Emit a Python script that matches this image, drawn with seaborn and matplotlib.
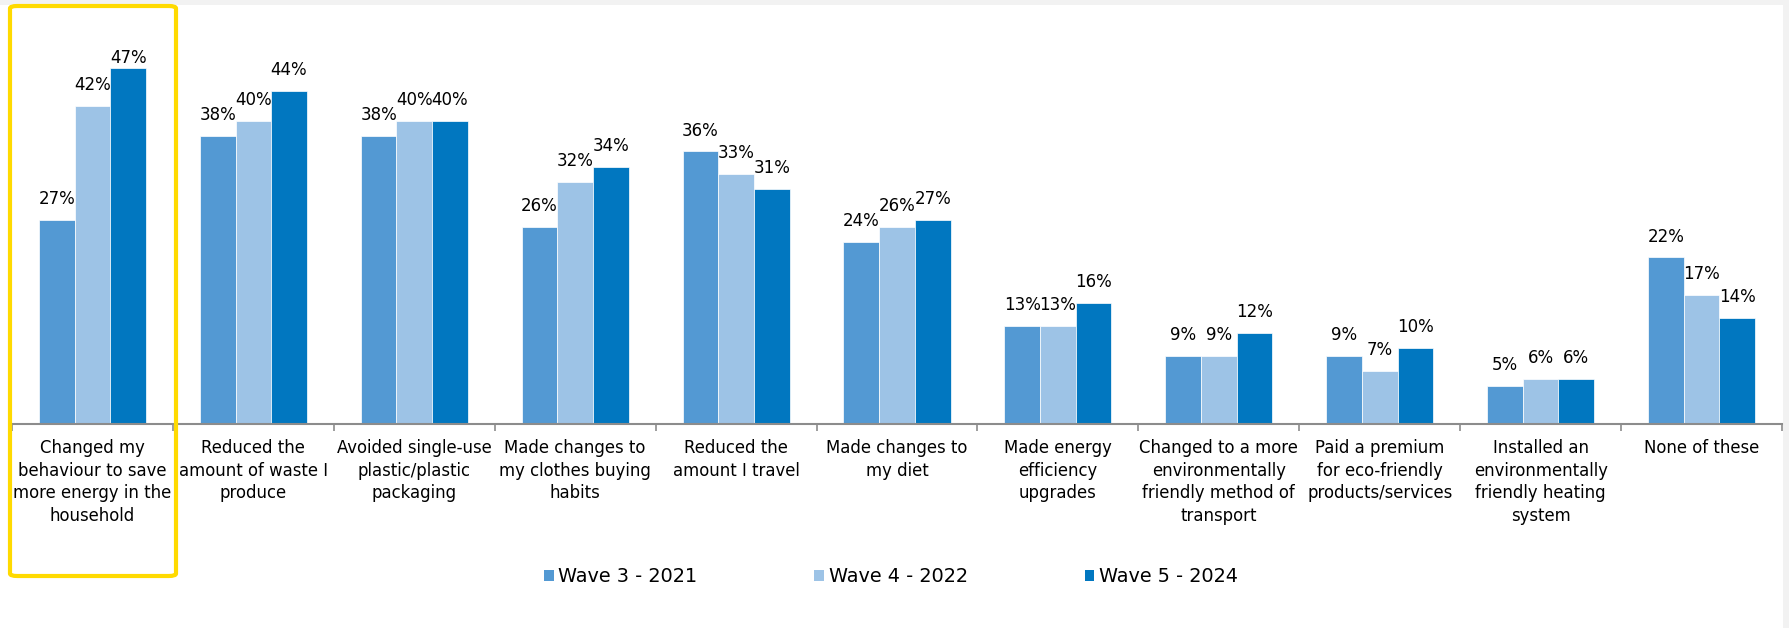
import matplotlib
matplotlib.use("Agg")
import matplotlib.pyplot as plt
from matplotlib.patches import Rectangle, FancyBboxPatch
import seaborn as sns
import pandas as pd

# Survey answers (share of respondents, %)
categories = [
    "Changed my\nbehaviour to save\nmore energy in the\nhousehold",
    "Reduced the\namount of waste I\nproduce",
    "Avoided single-use\nplastic/plastic\npackaging",
    "Made changes to\nmy clothes buying\nhabits",
    "Reduced the\namount I travel",
    "Made changes to\nmy diet",
    "Made energy\nefficiency\nupgrades",
    "Changed to a more\nenvironmentally\nfriendly method of\ntransport",
    "Paid a premium\nfor eco-friendly\nproducts/services",
    "Installed an\nenvironmentally\nfriendly heating\nsystem",
    "None of these",
]
waves = ["Wave 3 - 2021", "Wave 4 - 2022", "Wave 5 - 2024"]
wave3 = [27, 38, 38, 26, 36, 24, 13, 9, 9, 5, 22]
wave4 = [42, 40, 40, 32, 33, 26, 13, 9, 7, 6, 17]
wave5 = [47, 44, 40, 34, 31, 27, 16, 12, 10, 6, 14]
colors = ["#5399D3", "#9DC3E6", "#0177C0"]

df = pd.DataFrame({
    "category": categories * 3,
    "wave": [w for w in waves for _ in categories],
    "value": wave3 + wave4 + wave5,
})

W, H, DPI = 1789, 628, 100
sns.set_theme(style="white")
plt.rcParams["font.family"] = ["DejaVu Sans"]

fig = plt.figure(figsize=(W / DPI, H / DPI), dpi=DPI, facecolor="#F2F2F2")


def fx(px):
    return px / W


def fy(py):
    return 1 - py / H


# white panel behind everything
fig.patches.append(Rectangle((0, 0), fx(1783), fy(5), transform=fig.transFigure,
                             facecolor="white", edgecolor="none", zorder=-10))

ymax = 50
ax = fig.add_axes([fx(12), fy(424), fx(1782) - fx(12), fy(424 - ymax * 7.57) - fy(424)])
ax.set_facecolor("none")

sns.barplot(data=df, x="category", y="value", hue="wave", palette=colors,
            width=0.665, dodge=True, ax=ax, edgecolor="white", linewidth=0.5,
            legend=False, saturation=1)

ax.set_ylim(0, ymax)
ax.set_xlim(-0.5, len(categories) - 0.5)
ax.set_xlabel("")
ax.set_ylabel("")
ax.set_yticks([])
for s in ["top", "right", "left"]:
    ax.spines[s].set_visible(False)
ax.spines["bottom"].set_color("#8C8C8C")
ax.spines["bottom"].set_linewidth(1.5)

ax.set_xticks(range(len(categories)))
ax.set_xticklabels(categories, fontsize=11.9, color="black",
                   linespacing=1.32, va="top")
ax.tick_params(axis="x", which="major", length=0, pad=11)
ax.set_xticks([i - 0.5 for i in range(len(categories) + 1)], minor=True)
ax.tick_params(axis="x", which="minor", length=5, width=1.2, color="#8C8C8C",
               direction="out", bottom=True)

# value labels above each bar
for container in ax.containers:
    for bar in container:
        v = bar.get_height()
        y = min(v + 2.1, 47.7)
        ax.text(bar.get_x() + bar.get_width() / 2, y, f"{v:.0f}%",
                ha="center", va="baseline", fontsize=12.0, color="black")

# legend
handles = [Rectangle((0, 0), 1, 1, facecolor=c, edgecolor="none") for c in colors]
leg = fig.legend(handles, waves, loc="center", bbox_to_anchor=(fx(891), fy(577)), ncol=3,
                 frameon=False, fontsize=13.9, handlelength=0.5, handleheight=0.5,
                 handletextpad=0.25, columnspacing=6.05)
for t in leg.get_texts():
    t.set_color("black")

# highlight frame around the first category
fig.patches.append(FancyBboxPatch((fx(10), fy(576)), fx(166), fy(6) - fy(576),
                                  boxstyle="round,pad=0,rounding_size=0.004",
                                  transform=fig.transFigure, facecolor="none",
                                  edgecolor="#FFDA00", linewidth=3.0, zorder=5))

fig.savefig("out.png", dpi=DPI, facecolor=fig.get_facecolor())
